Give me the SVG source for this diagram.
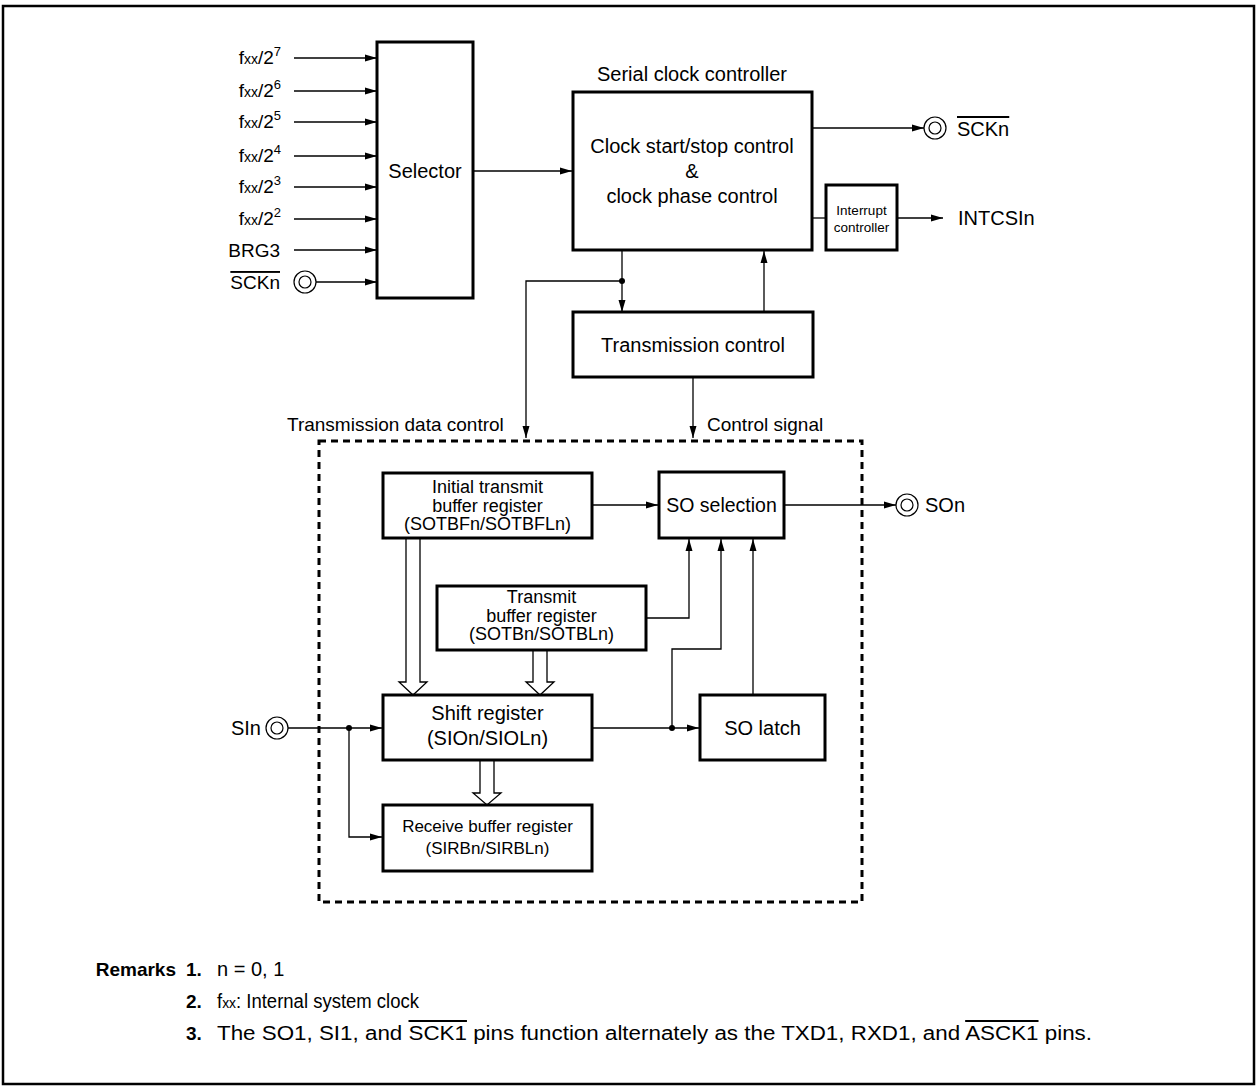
<svg xmlns="http://www.w3.org/2000/svg" width="1259" height="1089" viewBox="0 0 1259 1089">
<style>
.t{font-family:"Liberation Sans",Arial,Helvetica,sans-serif;fill:#000}
.c{text-anchor:middle}
.box{fill:#fff;stroke:#000;stroke-width:3}
.ln{fill:none;stroke:#000;stroke-width:1.3}
.pin{fill:#fff;stroke:#000;stroke-width:1.2}
.hol{fill:#fff;stroke:#000;stroke-width:1.3}
</style>
<defs>
<marker id="ah" markerUnits="userSpaceOnUse" markerWidth="13" markerHeight="9" refX="12" refY="4" orient="auto">
<path d="M0,0.5 L12,4 L0,7.5 z" fill="#000"/>
</marker>
</defs>
<rect width="1259" height="1089" fill="#fff"/>
<rect x="3" y="6" width="1251" height="1078" fill="none" stroke="#000" stroke-width="2.5"/>

<g id="connectors">
<line class="ln" x1="294" y1="58" x2="377" y2="58" marker-end="url(#ah)"/>
<line class="ln" x1="294" y1="91" x2="377" y2="91" marker-end="url(#ah)"/>
<line class="ln" x1="294" y1="122" x2="377" y2="122" marker-end="url(#ah)"/>
<line class="ln" x1="294" y1="156" x2="377" y2="156" marker-end="url(#ah)"/>
<line class="ln" x1="294" y1="187" x2="377" y2="187" marker-end="url(#ah)"/>
<line class="ln" x1="294" y1="219" x2="377" y2="219" marker-end="url(#ah)"/>
<line class="ln" x1="294" y1="250" x2="377" y2="250" marker-end="url(#ah)"/>
<line class="ln" x1="316" y1="282" x2="377" y2="282" marker-end="url(#ah)"/>
<line class="ln" x1="473" y1="171" x2="572" y2="171" marker-end="url(#ah)"/>
<line class="ln" x1="812" y1="128" x2="924" y2="128" marker-end="url(#ah)"/>
<line class="ln" x1="812" y1="218" x2="826" y2="218"/>
<line class="ln" x1="897" y1="218" x2="943" y2="218" marker-end="url(#ah)"/>
<line class="ln" x1="622" y1="250" x2="622" y2="312" marker-end="url(#ah)"/>
<polyline class="ln" points="622,281 526,281 526,438" marker-end="url(#ah)"/>
<circle cx="622" cy="281" r="3" fill="#000"/>
<line class="ln" x1="764" y1="312" x2="764" y2="251" marker-end="url(#ah)"/>
<line class="ln" x1="693" y1="378" x2="693" y2="438" marker-end="url(#ah)"/>
<line class="ln" x1="592" y1="505" x2="658" y2="505" marker-end="url(#ah)"/>
<line class="ln" x1="784" y1="505" x2="896" y2="505" marker-end="url(#ah)"/>
<polyline class="ln" points="646,618 689,618 689,539" marker-end="url(#ah)"/>
<polyline class="ln" points="672,728 672,649 721,649 721,539" marker-end="url(#ah)"/>
<line class="ln" x1="753" y1="695" x2="753" y2="539" marker-end="url(#ah)"/>
<line class="ln" x1="592" y1="728" x2="699" y2="728" marker-end="url(#ah)"/>
<circle cx="672" cy="728" r="3" fill="#000"/>
<line class="ln" x1="288" y1="728" x2="382" y2="728" marker-end="url(#ah)"/>
<polyline class="ln" points="349,728 349,837 382,837" marker-end="url(#ah)"/>
<circle cx="349" cy="728" r="3" fill="#000"/>
<path class="hol" d="M406,539 V682 H399 L413,695 L427,682 H420 V539"/>
<path class="hol" d="M533,651 V682 H526 L540,695 L554,682 H547 V651"/>
<path class="hol" d="M480,761 V793 H473 L487,805 L501,793 H494 V761"/>
</g>

<rect x="319" y="441" width="543" height="461" fill="none" stroke="#000" stroke-width="3" stroke-dasharray="7 5"/>

<g id="inputs">
<text class="t" font-size="19" text-anchor="end" x="281" y="64">f<tspan font-size="14">xx</tspan>/2<tspan font-size="13" dy="-8">7</tspan></text>
<text class="t" font-size="19" text-anchor="end" x="281" y="97">f<tspan font-size="14">xx</tspan>/2<tspan font-size="13" dy="-8">6</tspan></text>
<text class="t" font-size="19" text-anchor="end" x="281" y="128">f<tspan font-size="14">xx</tspan>/2<tspan font-size="13" dy="-8">5</tspan></text>
<text class="t" font-size="19" text-anchor="end" x="281" y="162">f<tspan font-size="14">xx</tspan>/2<tspan font-size="13" dy="-8">4</tspan></text>
<text class="t" font-size="19" text-anchor="end" x="281" y="193">f<tspan font-size="14">xx</tspan>/2<tspan font-size="13" dy="-8">3</tspan></text>
<text class="t" font-size="19" text-anchor="end" x="281" y="225">f<tspan font-size="14">xx</tspan>/2<tspan font-size="13" dy="-8">2</tspan></text>
<text class="t" font-size="19" text-anchor="end" x="280" y="257">BRG3</text>
<text class="t" font-size="19" text-anchor="end" x="280" y="289" text-decoration="overline">SCKn</text>
<circle class="pin" cx="305" cy="282" r="11"/><circle class="pin" cx="305" cy="282" r="6"/>
</g>

<g id="selector">
<rect class="box" x="377" y="42" width="96" height="256"/>
<text class="t c" font-size="20" x="425" y="178">Selector</text>
</g>

<g id="serial-clock-controller">
<text class="t c" font-size="20" x="692" y="81">Serial clock controller</text>
<rect class="box" x="573" y="92" width="239" height="158"/>
<text class="t c" font-size="20" x="692" y="153">Clock start/stop control</text>
<text class="t c" font-size="20" x="692" y="178">&amp;</text>
<text class="t c" font-size="20" x="692" y="203">clock phase control</text>
</g>

<g id="sckn-out">
<circle class="pin" cx="935" cy="128" r="11"/><circle class="pin" cx="935" cy="128" r="6"/>
<text class="t" font-size="20" x="957" y="136" text-decoration="overline">SCKn</text>
</g>

<g id="interrupt-controller">
<rect class="box" x="826" y="185" width="71" height="65"/>
<text class="t c" font-size="13.5" x="861.5" y="215">Interrupt</text>
<text class="t c" font-size="13.5" x="861.5" y="232">controller</text>
</g>
<text class="t" font-size="20" x="958" y="225">INTCSIn</text>

<g id="transmission-control">
<rect class="box" x="573" y="312" width="240" height="65"/>
<text class="t c" font-size="20" x="693" y="352">Transmission control</text>
</g>
<text class="t" font-size="19" x="287" y="431">Transmission data control</text>
<text class="t" font-size="19" x="707" y="431">Control signal</text>

<g id="initial-transmit-buffer">
<rect class="box" x="383" y="473" width="209" height="65"/>
<text class="t c" font-size="18" x="487.5" y="493">Initial transmit</text>
<text class="t c" font-size="18" x="487.5" y="512">buffer register</text>
<text class="t c" font-size="18" x="487.5" y="530">(SOTBFn/SOTBFLn)</text>
</g>

<g id="so-selection">
<rect class="box" x="659" y="472" width="125" height="66"/>
<text class="t c" font-size="19.5" x="721.5" y="512">SO selection</text>
</g>

<g id="son">
<circle class="pin" cx="907" cy="505" r="11"/><circle class="pin" cx="907" cy="505" r="6"/>
<text class="t" font-size="20" x="925" y="512">SOn</text>
</g>

<g id="transmit-buffer">
<rect class="box" x="437" y="586" width="209" height="64"/>
<text class="t c" font-size="18" x="541.5" y="603">Transmit</text>
<text class="t c" font-size="18" x="541.5" y="622">buffer register</text>
<text class="t c" font-size="18" x="541.5" y="640">(SOTBn/SOTBLn)</text>
</g>

<g id="shift-register">
<rect class="box" x="383" y="695" width="209" height="65"/>
<text class="t c" font-size="20" x="487.5" y="720">Shift register</text>
<text class="t c" font-size="20" x="487.5" y="745">(SIOn/SIOLn)</text>
</g>

<g id="so-latch">
<rect class="box" x="700" y="695" width="125" height="65"/>
<text class="t c" font-size="20" x="762.5" y="735">SO latch</text>
</g>

<g id="sin">
<circle class="pin" cx="277" cy="728" r="11"/><circle class="pin" cx="277" cy="728" r="6"/>
<text class="t" font-size="20" text-anchor="end" x="261" y="735">SIn</text>
</g>

<g id="receive-buffer">
<rect class="box" x="383" y="805" width="209" height="66"/>
<text class="t c" font-size="17" x="487.5" y="832">Receive buffer register</text>
<text class="t c" font-size="17" x="487.5" y="854">(SIRBn/SIRBLn)</text>
</g>

<g id="remarks">
<text class="t" font-size="19" font-weight="bold" text-anchor="end" x="176" y="976">Remarks</text>
<text class="t" font-size="19" font-weight="bold" x="186" y="976">1.</text>
<text class="t" font-size="20" x="217" y="976">n = 0, 1</text>
<text class="t" font-size="19" font-weight="bold" x="186" y="1008">2.</text>
<text class="t" font-size="20" x="217" y="1008" textLength="202" lengthAdjust="spacingAndGlyphs">f<tspan font-size="15">xx</tspan>:  Internal system clock</text>
<text class="t" font-size="19" font-weight="bold" x="186" y="1040">3.</text>
<text class="t" font-size="20" x="217" y="1040" textLength="875" lengthAdjust="spacingAndGlyphs">The SO1, SI1, and <tspan text-decoration="overline">SCK1</tspan> pins function alternately as the TXD1, RXD1, and <tspan text-decoration="overline">ASCK1</tspan> pins.</text>
</g>
</svg>
